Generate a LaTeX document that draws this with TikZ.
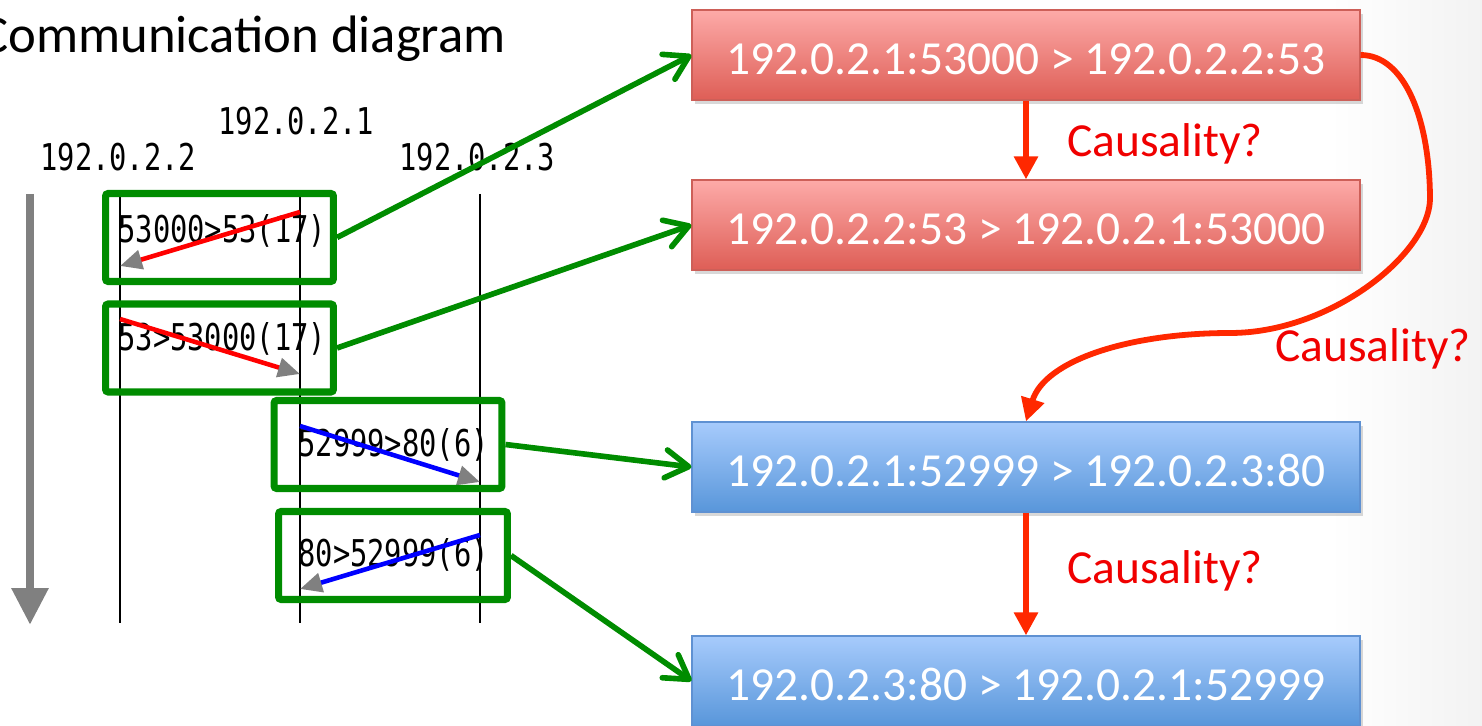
\documentclass[tikz,border=0pt]{standalone}
\usepackage{fontspec}
\setmainfont{Carlito}
\newfontfamily\monofont[FakeStretch=0.78]{DejaVu Sans Mono}
\usetikzlibrary{arrows.meta,shadows}

\definecolor{pgreen}{RGB}{0,140,0}
\definecolor{cause}{RGB}{255,40,0}
\definecolor{causetext}{RGB}{240,0,0}
\definecolor{redtop}{RGB}{253,170,168}
\definecolor{redbot}{RGB}{222,94,86}
\definecolor{rededge}{RGB}{205,95,88}
\definecolor{bluetop}{RGB}{167,203,252}
\definecolor{bluebot}{RGB}{88,150,218}
\definecolor{blueedge}{RGB}{95,145,210}
\definecolor{tgray}{RGB}{128,128,128}

\begin{document}
\begin{tikzpicture}[x=0.02cm, y=-0.02cm,
  flowbox/.style={rectangle, line width=0.7pt, minimum width=13.36cm,
    minimum height=1.8cm, inner sep=0pt, text=white,
    font=\fontsize{27}{30}\selectfont, text height=22pt, text depth=0pt,
    drop shadow={shadow xshift=1.5pt, shadow yshift=-2.5pt, opacity=0.3}},
  redflow/.style={flowbox, draw=rededge, top color=redtop, bottom color=redbot},
  blueflow/.style={flowbox, draw=blueedge, top color=bluetop, bottom color=bluebot},
  msgframe/.style={rectangle, draw=pgreen, line width=4pt,
    rounded corners=1.5pt, minimum width=4.56cm, minimum height=1.76cm,
    inner sep=0pt},
  mono/.style={font=\monofont\fontsize{21}{24}\selectfont, inner sep=0pt,
    anchor=base west},
  lifeline/.style={line width=0.8pt},
  msgtip/.style={-{Triangle[length=0.44cm, width=0.38cm, color=tgray, fill=tgray]}},
  redmsg/.style={red, line width=2.6pt, msgtip},
  bluemsg/.style={blue, line width=2.6pt, msgtip},
  greenlink/.style={pgreen, line width=3.2pt,
    -{Straight Barb[length=0.46cm, width=0.56cm, round]}},
  causal/.style={cause, line width=3.3pt,
    -{Triangle[length=0.46cm, width=0.46cm]}},
  causelabel/.style={text=causetext, font=\fontsize{27}{30}\selectfont,
    inner sep=0pt, anchor=base west},
]
\useasboundingbox (0,0) rectangle (1482,726);
\fill[white] (0,0) rectangle (1482,726);
\fill[left color=white, right color=black!5] (1330,0) rectangle (1482,726);

% title
\node[font=\fontsize{30}{34}\selectfont, inner sep=0pt, anchor=base west]
  (title) at (-20,53) {Communication diagram};

% time axis
\coordinate (t0) at (30,194);
\coordinate (t1) at (30,625);
\draw[tgray, line width=0.18cm, -{Triangle[length=0.74cm, width=0.7cm]}] (t0) -- (t1);

% host labels
\node[mono] (h2) at (40,171) {192.0.2.2};
\node[mono] (h1) at (218,135) {192.0.2.1};
\node[mono] (h3) at (399,171) {192.0.2.3};

% lifelines
\foreach \n/\x in {a/120, b/300, c/480} {
  \coordinate (\n top) at (\x,194);
  \coordinate (\n bot) at (\x,623);
  \draw[lifeline] (\n top) -- (\n bot);
}

% message end points on the lifelines
\coordinate (m1s) at (300,212); \coordinate (m1e) at (120,266);
\coordinate (m2s) at (120,319); \coordinate (m2e) at (300,374);
\coordinate (m3s) at (300,426); \coordinate (m3e) at (480,482);
\coordinate (m4s) at (480,535); \coordinate (m4e) at (300,589);

% message texts
\node[mono] (l1) at (118,243) {53000>53(17)};
\node[mono] (l2) at (118,351) {53>53000(17)};
\node[mono] (l3) at (298,457) {52999>80(6)};
\node[mono] (l4) at (298,566) {80>52999(6)};

% messages
\draw[redmsg] (m1s) -- (m1e);
\draw[redmsg] (m2s) -- (m2e);
\draw[bluemsg] (m3s) -- (m3e);
\draw[bluemsg] (m4s) -- (m4e);

% green frames around the messages
\node[msgframe] (f1) at (219.5,237.5) {};
\node[msgframe] (f2) at (219.5,348) {};
\node[msgframe] (f3) at (388,444.5) {};
\node[msgframe, minimum width=4.58cm] (f4) at (393,555.5) {};

% flow boxes
\node[redflow] (r1) at (1026,55) {192.0.2.1:53000 > 192.0.2.2:53};
\node[redflow] (r2) at (1026,225) {192.0.2.2:53 > 192.0.2.1:53000};
\node[blueflow] (b1) at (1026,467) {192.0.2.1:52999 > 192.0.2.3:80};
\node[blueflow] (b2) at (1026,681) {192.0.2.3:80 > 192.0.2.1:52999};

% links from messages to flows
\draw[greenlink] (f1.east) -- (r1.west);
\draw[greenlink] (f2.east) -- (r2.west);
\draw[greenlink] (f3.east) -- (b1.west);
\draw[greenlink] (f4.east) -- (b2.west);

% causality arrows
\draw[causal] (r1.south) -- (r2.north);
\draw[causal] (b1.south) -- (b2.north);
\coordinate (cv1) at (1430,200);
\coordinate (cv2) at (1230,333);
\draw[causal] (r1.east) .. controls (1405,55) and (1430,120) .. (cv1)
  .. controls (1428,255) and (1330,333) .. (cv2)
  .. controls (1130,333) and (1045,360) .. (b1.north);

\node[causelabel] (c1) at (1067,157) {Causality?};
\node[causelabel] (c2) at (1067,583) {Causality?};
\node[causelabel] (c3) at (1275,362) {Causality?};
\end{tikzpicture}
\end{document}
